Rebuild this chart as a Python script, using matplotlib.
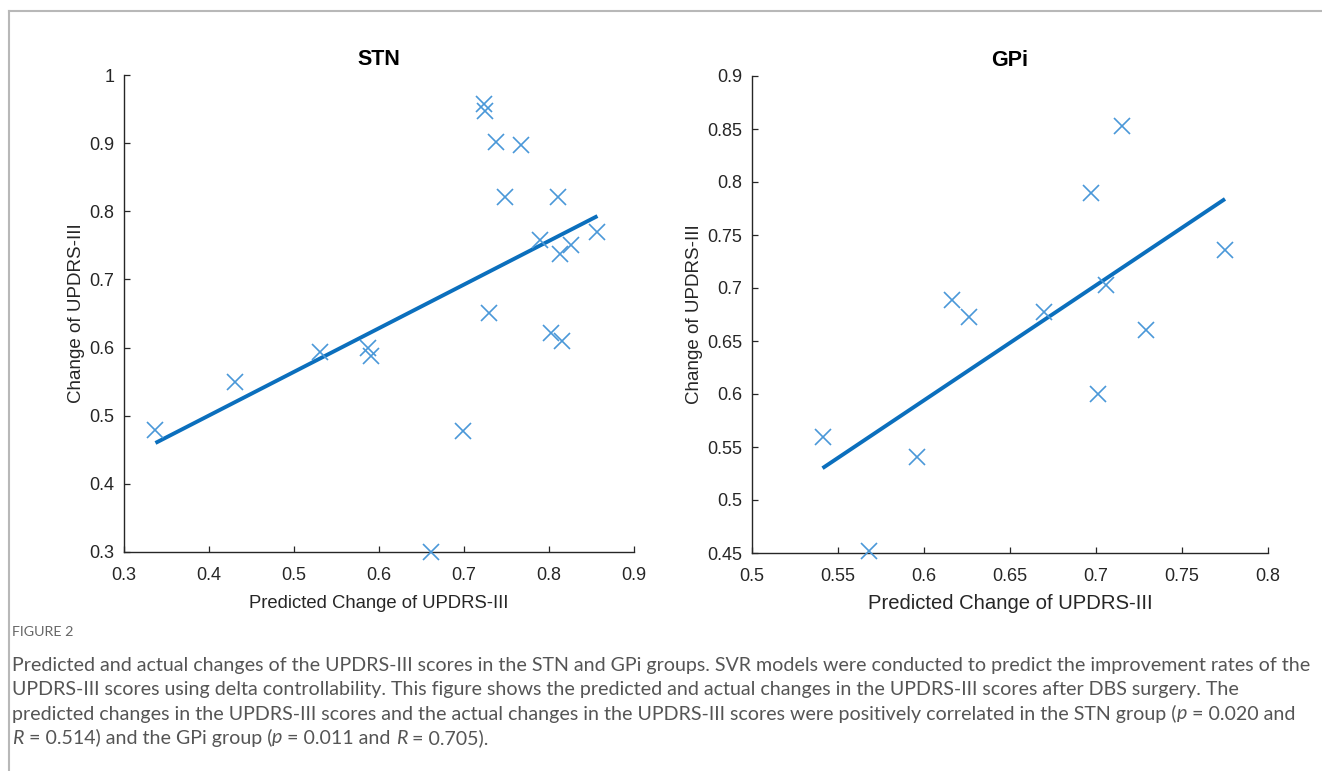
import matplotlib
matplotlib.use("Agg")
import matplotlib.pyplot as plt
from matplotlib.lines import Line2D

plt.rcParams['font.family'] = ['Liberation Sans', 'DejaVu Sans']

# STN group: predicted vs actual change of UPDRS-III
stn_pred = [0.337, 0.431, 0.530, 0.587, 0.591, 0.699, 0.661, 0.723, 0.725, 0.738,
            0.767, 0.748, 0.729, 0.811, 0.790, 0.813, 0.826, 0.857, 0.802, 0.815]
stn_actual = [0.479, 0.550, 0.593, 0.600, 0.587, 0.477, 0.300, 0.958, 0.947, 0.902,
              0.897, 0.821, 0.651, 0.821, 0.758, 0.738, 0.750, 0.769, 0.621, 0.609]
stn_fit_x = [0.337, 0.857]
stn_fit_y = [0.460, 0.793]

# GPi group
gpi_pred = [0.541, 0.568, 0.596, 0.616, 0.626, 0.670, 0.697, 0.715, 0.706, 0.701, 0.729, 0.775]
gpi_actual = [0.559, 0.452, 0.541, 0.689, 0.673, 0.677, 0.790, 0.853, 0.703, 0.600, 0.660, 0.736]
gpi_fit_x = [0.541, 0.775]
gpi_fit_y = [0.530, 0.784]

stn_xticks = [0.3, 0.4, 0.5, 0.6, 0.7, 0.8, 0.9]
stn_yticks = [0.3, 0.4, 0.5, 0.6, 0.7, 0.8, 0.9, 1]
gpi_xticks = [0.5, 0.55, 0.6, 0.65, 0.7, 0.75, 0.8]
gpi_yticks = [0.45, 0.5, 0.55, 0.6, 0.65, 0.7, 0.75, 0.8, 0.85, 0.9]

axis_col = '#262626'
mark_col = '#4a98d8'
line_col = '#0b6fbd'

fig = plt.figure(figsize=(13.22, 7.71), dpi=100)

# frame lines (top and left) around the figure panel
fig.add_artist(Line2D([9 / 1322, 1], [1 - 11 / 771] * 2, color='#b8b8b8', lw=1.5,
                      transform=fig.transFigure))
fig.add_artist(Line2D([9 / 1322] * 2, [0, 1 - 11 / 771], color='#b8b8b8', lw=1.5,
                      transform=fig.transFigure))


def fmt(v):
    s = ('%.2f' % v).rstrip('0').rstrip('.')
    return s


def panel(rect, xs, ys, fx, fy, xt, yt, title, lab_fs, lab_pad):
    ax = fig.add_axes(rect)
    ax.plot(fx, fy, color=line_col, lw=2.8, solid_capstyle='butt', zorder=2)
    ax.plot(xs, ys, linestyle='none', marker='x', ms=11, mew=1.2, color=mark_col,
            zorder=3, clip_on=False)
    ax.set_xlim(xt[0], xt[-1])
    ax.set_ylim(yt[0], yt[-1])
    ax.set_xticks(xt)
    ax.set_yticks(yt)
    ax.set_xticklabels([fmt(v) for v in xt])
    ax.set_yticklabels([fmt(v) for v in yt])
    for side in ['top', 'right']:
        ax.spines[side].set_visible(False)
    for side in ['left', 'bottom']:
        ax.spines[side].set_color(axis_col)
        ax.spines[side].set_linewidth(1.0)
    ax.tick_params(direction='in', length=4, width=0.9, color=axis_col,
                   labelcolor=axis_col, labelsize=13)
    ax.tick_params(axis='x', pad=10.5)
    ax.tick_params(axis='y', pad=7)
    ax.set_title(title, fontsize=15.5, fontweight='bold', color='black', pad=7)
    ax.set_xlabel('Predicted Change of UPDRS-III', fontsize=lab_fs, color=axis_col,
                  labelpad=lab_pad)
    ax.set_ylabel('Change of UPDRS-III', fontsize=13.5, color=axis_col, labelpad=3)
    return ax


panel([124 / 1322, 1 - 552 / 771, 510 / 1322, 477 / 771], stn_pred, stn_actual,
      stn_fit_x, stn_fit_y, stn_xticks, stn_yticks, 'STN', 13.3, 8)
panel([752 / 1322, 1 - 553 / 771, 516 / 1322, 477 / 771], gpi_pred, gpi_actual,
      gpi_fit_x, gpi_fit_y, gpi_xticks, gpi_yticks, 'GPi', 14.6, 7)

# caption
cap_font = ['Lato', 'DejaVu Sans']
cap_col = '#555555'
fig.text(12 / 1322, 1 - 632 / 771, 'FIGURE 2', fontsize=10.3, color='#666666',
         family=cap_font, va='center')

lines = [
    [('Predicted and actual changes of the UPDRS-III scores in the STN and GPi groups. '
      'SVR models were conducted to predict the improvement rates of the', 'normal')],
    [('UPDRS-III scores using delta controllability. This figure shows the predicted '
      'and actual changes in the UPDRS-III scores after DBS surgery. The', 'normal')],
    [('predicted changes in the UPDRS-III scores and the actual changes in the UPDRS-III '
      'scores were positively correlated in the STN group (', 'normal'),
     ('p', 'italic'), (' = 0.020 and', 'normal')],
    [('R', 'italic'), (' = 0.514) and the GPi group (', 'normal'), ('p', 'italic'),
     (' = 0.011 and ', 'normal'), ('R', 'italic'), (' = 0.705).', 'normal')],
]
line_y = [665, 690, 714, 738]

renderer = fig.canvas.get_renderer()
for segs, ypix in zip(lines, line_y):
    x = 12
    for txt, style in segs:
        t = fig.text(x / 1322, 1 - ypix / 771, txt, fontsize=14.1, color=cap_col,
                     family=cap_font, style=style, va='center')
        bb = t.get_window_extent(renderer=renderer)
        x += bb.width

fig.savefig('out.png', dpi=100)
